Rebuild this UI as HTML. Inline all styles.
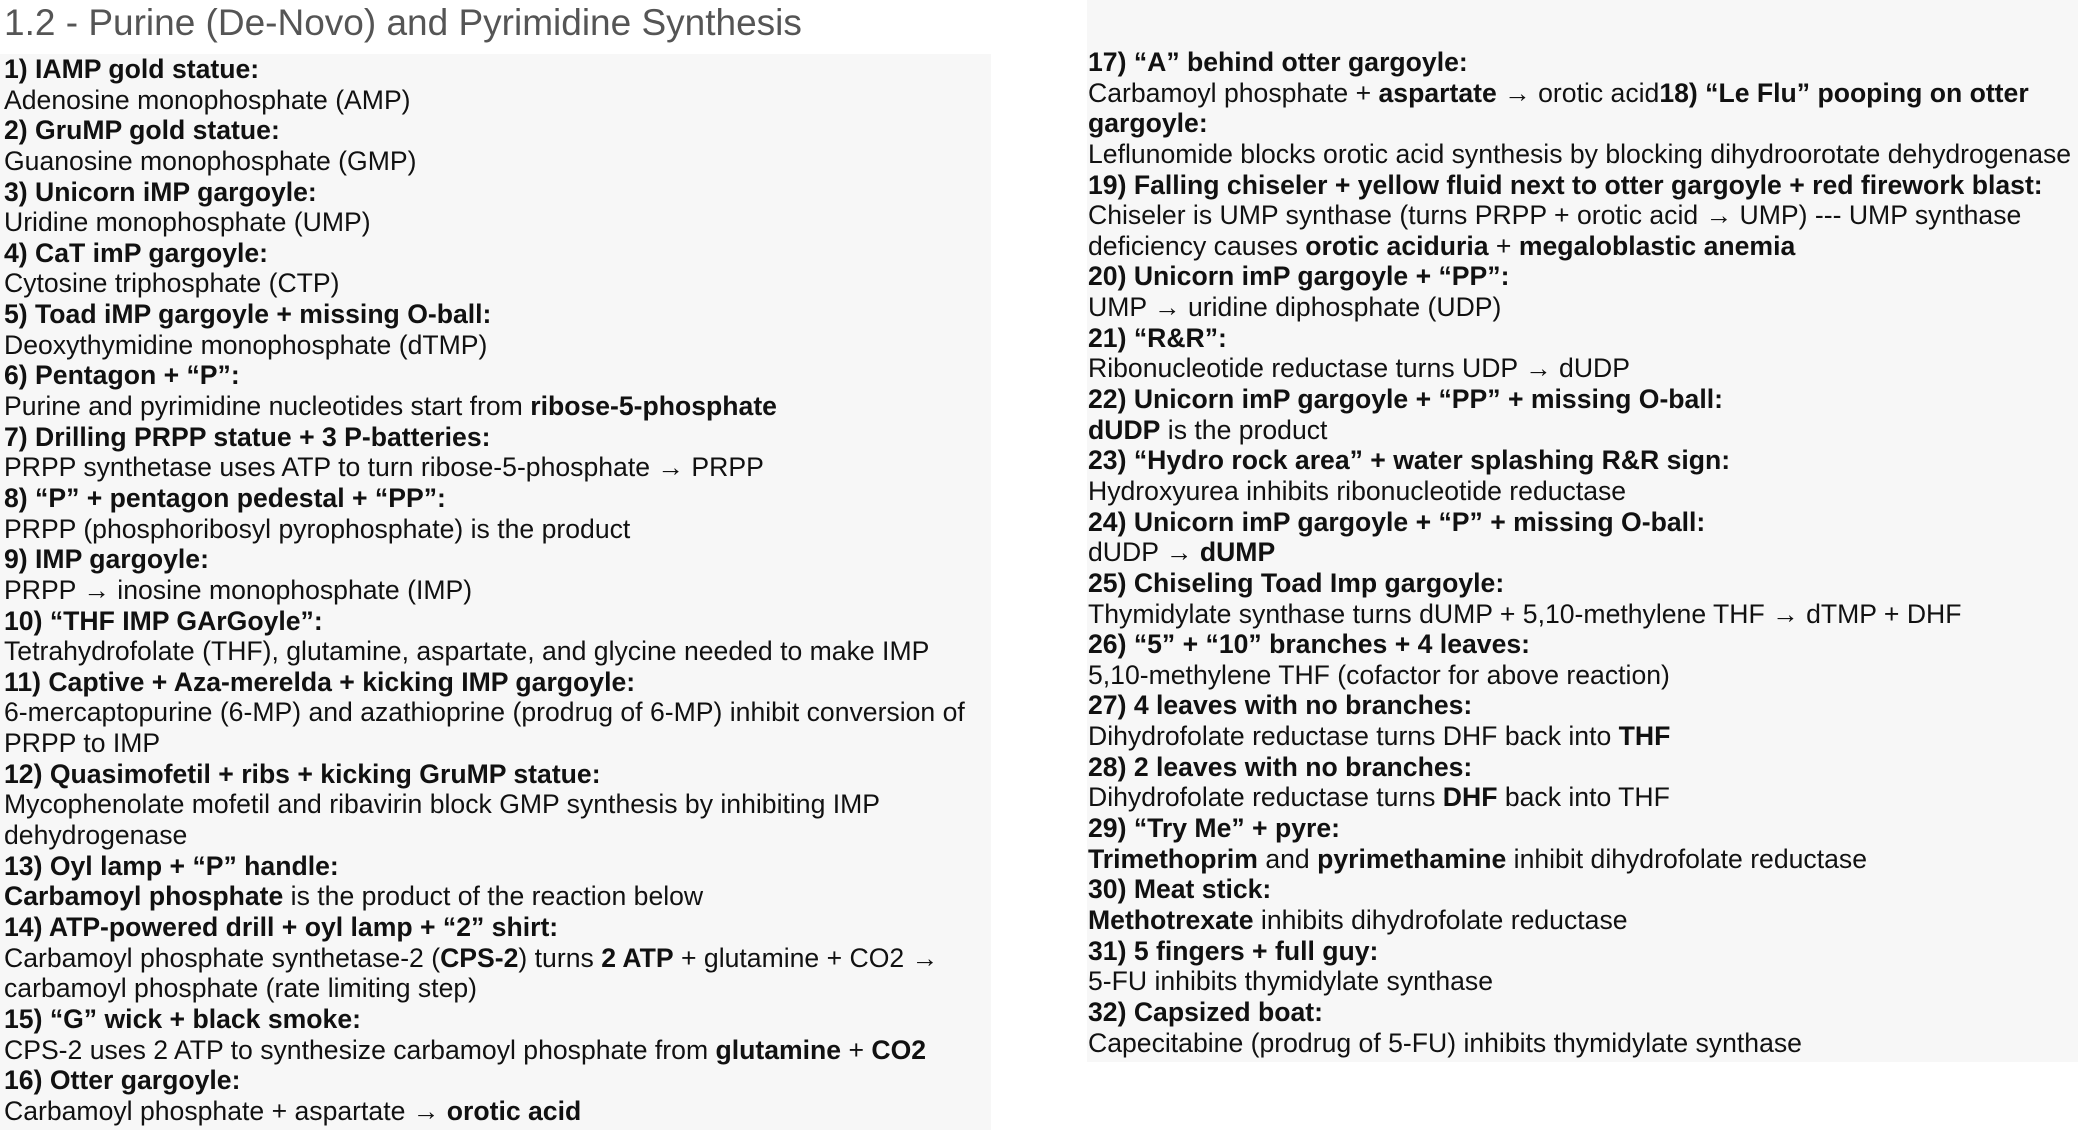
<!DOCTYPE html>
<html><head><meta charset="utf-8"><style>
html,body{margin:0;padding:0;width:2078px;height:1130px;background:#fff;overflow:hidden;}
body{font-family:"Liberation Sans",Arial,sans-serif;color:#111;}
#title{position:absolute;left:4px;top:1px;font-size:37px;color:#555;white-space:nowrap;line-height:44px;}
.panel{position:absolute;background:#f7f7f7;}
#left-panel{left:0;top:54px;width:991px;height:1076px;}
#right-panel{left:1087px;top:0;width:991px;height:1062px;}
.col{position:absolute;font-size:26.6px;line-height:30.65px;white-space:nowrap;}
#left-col{left:4px;top:54px;}
#right-col{left:1088px;top:47px;}
.col div{height:30.65px;}
</style></head><body>
<div id="title">1.2 - Purine (De-Novo) and Pyrimidine Synthesis</div>
<div class="panel" id="left-panel"></div>
<div class="panel" id="right-panel"></div>
<div class="col" id="left-col">
<div><b>1) IAMP gold statue:</b></div>
<div>Adenosine monophosphate (AMP)</div>
<div><b>2) GruMP gold statue:</b></div>
<div>Guanosine monophosphate (GMP)</div>
<div><b>3) Unicorn iMP gargoyle:</b></div>
<div>Uridine monophosphate (UMP)</div>
<div><b>4) CaT imP gargoyle:</b></div>
<div>Cytosine triphosphate (CTP)</div>
<div><b>5) Toad iMP gargoyle + missing O-ball:</b></div>
<div>Deoxythymidine monophosphate (dTMP)</div>
<div><b>6) Pentagon + “P”:</b></div>
<div>Purine and pyrimidine nucleotides start from <b>ribose-5-phosphate</b></div>
<div><b>7) Drilling PRPP statue + 3 P-batteries:</b></div>
<div>PRPP synthetase uses ATP to turn ribose-5-phosphate → PRPP</div>
<div><b>8) “P” + pentagon pedestal + “PP”:</b></div>
<div>PRPP (phosphoribosyl pyrophosphate) is the product</div>
<div><b>9) IMP gargoyle:</b></div>
<div>PRPP → inosine monophosphate (IMP)</div>
<div><b>10) “THF IMP GArGoyle”:</b></div>
<div>Tetrahydrofolate (THF), glutamine, aspartate, and glycine needed to make IMP</div>
<div><b>11) Captive + Aza-merelda + kicking IMP gargoyle:</b></div>
<div>6-mercaptopurine (6-MP) and azathioprine (prodrug of 6-MP) inhibit conversion of</div>
<div>PRPP to IMP</div>
<div><b>12) Quasimofetil + ribs + kicking GruMP statue:</b></div>
<div>Mycophenolate mofetil and ribavirin block GMP synthesis by inhibiting IMP</div>
<div>dehydrogenase</div>
<div><b>13) Oyl lamp + “P” handle:</b></div>
<div><b>Carbamoyl phosphate</b> is the product of the reaction below</div>
<div><b>14) ATP-powered drill + oyl lamp + “2” shirt:</b></div>
<div>Carbamoyl phosphate synthetase-2 (<b>CPS-2</b>) turns <b>2 ATP</b> + glutamine + CO2 →</div>
<div>carbamoyl phosphate (rate limiting step)</div>
<div><b>15) “G” wick + black smoke:</b></div>
<div>CPS-2 uses 2 ATP to synthesize carbamoyl phosphate from <b>glutamine</b> + <b>CO2</b></div>
<div><b>16) Otter gargoyle:</b></div>
<div>Carbamoyl phosphate + aspartate → <b>orotic acid</b></div>
</div>
<div class="col" id="right-col">
<div><b>17) “A” behind otter gargoyle:</b></div>
<div>Carbamoyl phosphate + <b>aspartate</b> → orotic acid<b>18) “Le Flu” pooping on otter</b></div>
<div><b>gargoyle:</b></div>
<div>Leflunomide blocks orotic acid synthesis by blocking dihydroorotate dehydrogenase</div>
<div><b>19) Falling chiseler + yellow fluid next to otter gargoyle + red firework blast:</b></div>
<div>Chiseler is UMP synthase (turns PRPP + orotic acid → UMP) --- UMP synthase</div>
<div>deficiency causes <b>orotic aciduria</b> + <b>megaloblastic anemia</b></div>
<div><b>20) Unicorn imP gargoyle + “PP”:</b></div>
<div>UMP → uridine diphosphate (UDP)</div>
<div><b>21) “R&amp;R”:</b></div>
<div>Ribonucleotide reductase turns UDP → dUDP</div>
<div><b>22) Unicorn imP gargoyle + “PP” + missing O-ball:</b></div>
<div><b>dUDP</b> is the product</div>
<div><b>23) “Hydro rock area” + water splashing R&amp;R sign:</b></div>
<div>Hydroxyurea inhibits ribonucleotide reductase</div>
<div><b>24) Unicorn imP gargoyle + “P” + missing O-ball:</b></div>
<div>dUDP → <b>dUMP</b></div>
<div><b>25) Chiseling Toad Imp gargoyle:</b></div>
<div>Thymidylate synthase turns dUMP + 5,10-methylene THF → dTMP + DHF</div>
<div><b>26) “5” + “10” branches + 4 leaves:</b></div>
<div>5,10-methylene THF (cofactor for above reaction)</div>
<div><b>27) 4 leaves with no branches:</b></div>
<div>Dihydrofolate reductase turns DHF back into <b>THF</b></div>
<div><b>28) 2 leaves with no branches:</b></div>
<div>Dihydrofolate reductase turns <b>DHF</b> back into THF</div>
<div><b>29) “Try Me” + pyre:</b></div>
<div><b>Trimethoprim</b> and <b>pyrimethamine</b> inhibit dihydrofolate reductase</div>
<div><b>30) Meat stick:</b></div>
<div><b>Methotrexate</b> inhibits dihydrofolate reductase</div>
<div><b>31) 5 fingers + full guy:</b></div>
<div>5-FU inhibits thymidylate synthase</div>
<div><b>32) Capsized boat:</b></div>
<div>Capecitabine (prodrug of 5-FU) inhibits thymidylate synthase</div>
</div>
</body></html>
